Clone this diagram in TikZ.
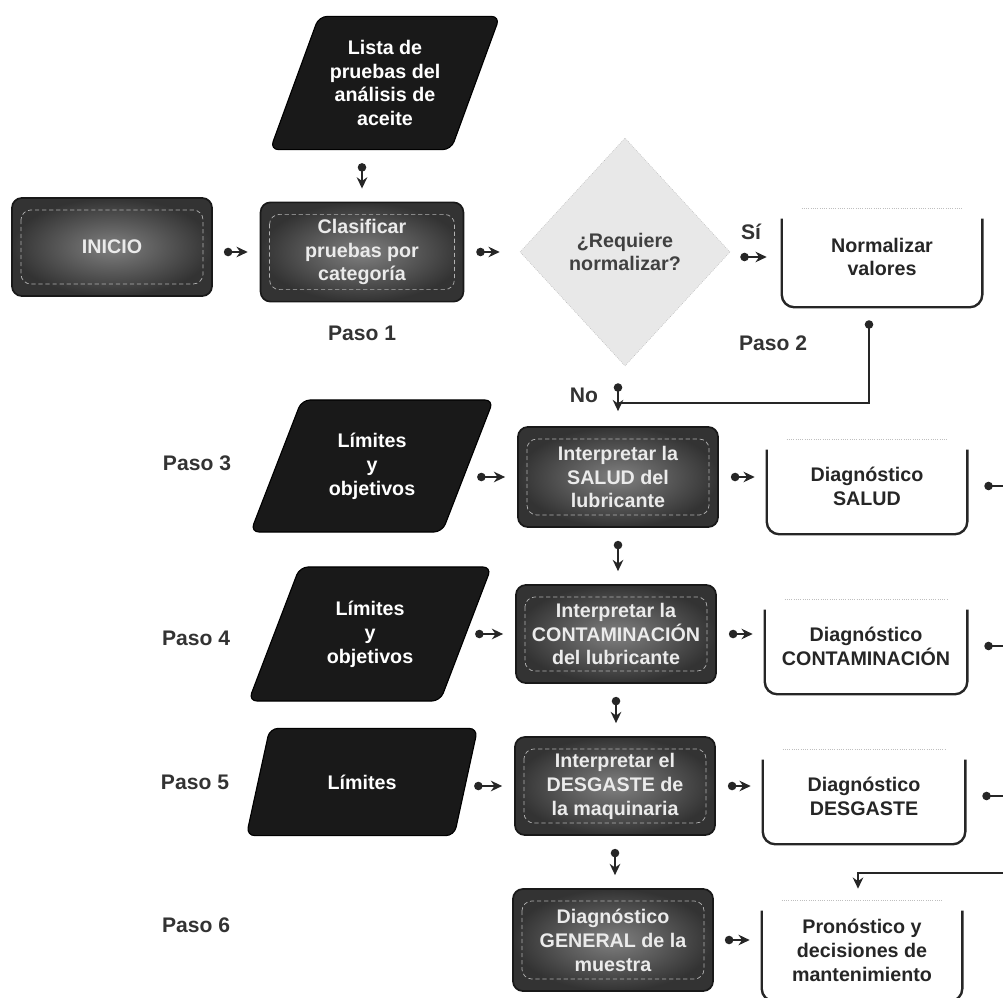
\documentclass[tikz,border=0pt]{standalone}
\usepackage{fontspec}
\setmainfont{Liberation Sans}
\usetikzlibrary{shapes.geometric,arrows.meta,calc}
\begin{document}
\begin{tikzpicture}[x=0.025cm,y=-0.025cm,
  txt/.style={font=\fontsize{14}{17}\selectfont\bfseries, align=center, inner sep=2pt},
  darkbox/.style={txt, text=white!92!black, rounded corners=7pt, draw=black!90, line width=1.2pt,
     inner color=black!50, outer color=black!80, minimum width=5cm, minimum height=2.45cm,
     path picture={\draw[white!70!black, densely dashed, line width=0.5pt]
        ($(path picture bounding box.north west)+(9,12)$) rectangle ($(path picture bounding box.south east)+(-9,-12)$);}},
  para/.style={txt, text=white, shape=trapezium, trapezium left angle=65, trapezium right angle=115,
     trapezium stretches=true, fill=black!90, draw=black, line width=0.8pt, rounded corners=6pt,
     minimum width=6.1cm, minimum height=3.3cm},
  brk/.style={txt, text=black!85, minimum width=5cm, minimum height=2.4cm},
  brkline/.style={draw=black!85, line width=1.7pt, rounded corners=9pt},
  brktop/.style={draw=black!25, densely dotted, line width=0.6pt},
  conn/.style={line width=1.3pt, draw=black!85, {Circle[length=6pt]}-{Stealth[length=8pt,width=7.5pt]}},
  dotline/.style={line width=1.3pt, draw=black!85, {Circle[length=6pt]}-},
  feed/.style={line width=1.3pt, draw=black!85, -{Stealth[length=8pt,width=7.5pt]}},
  lbl/.style={font=\fontsize{15}{18}\selectfont\bfseries, text=black!80}
]
\useasboundingbox (0,0) rectangle (1003,997);

% top part
\node[para, minimum width=5.75cm, minimum height=3.33cm] (lista) at (385,83) {Lista de\\pruebas del\\análisis de\\aceite};
\node[darkbox] (inicio) at (112,247) {INICIO};
\node[darkbox, minimum width=5.07cm, minimum height=2.48cm] (clas) at (362,252) {Clasificar\\pruebas por\\categoría};
\node[txt, shape=diamond, minimum width=5.25cm, minimum height=5.7cm, fill=black!9, draw=black!30, densely dotted, text=black!75] (dia) at (625,252) {¿Requiere\\normalizar?};
\node[brk, minimum height=2.5cm] (norm) at (882,257) {Normalizar\\valores};

% left parallelograms
\node[para, minimum width=6.07cm, minimum height=3.3cm] (p1) at (372,466) {Límites\\y\\objetivos};
\node[para, minimum width=6.07cm, minimum height=3.35cm] (p2) at (370,634) {Límites\\y\\objetivos};
\node[para, minimum width=5.8cm, minimum height=2.68cm] (p3) at (362,782) {Límites};

% interpretation boxes
\node[darkbox, minimum height=2.5cm] (i3) at (618,477) {Interpretar la\\SALUD del\\lubricante};
\node[darkbox] (i4) at (616,634) {Interpretar la\\CONTAMINACIÓN\\del lubricante};
\node[darkbox, minimum height=2.45cm] (i5) at (615,786) {Interpretar el\\DESGASTE de\\la maquinaria};
\node[darkbox, minimum height=2.55cm] (i6) at (613,940) {Diagnóstico\\GENERAL de la\\muestra};

% diagnosis boxes
\node[brk] (d3) at (867,486) {Diagnóstico\\SALUD};
\node[brk, minimum width=5.05cm] (d4) at (866,646) {Diagnóstico\\CONTAMINACIÓN};
\node[brk, minimum width=5.05cm] (d5) at (864,796) {Diagnóstico\\DESGASTE};
\node[brk, minimum height=2.55cm] (pron) at (862,950) {Pronóstico y\\decisiones de\\mantenimiento};

\foreach \n in {norm,d3,d4,d5,pron} {
  \draw[brkline] ($(\n.north west)+(0,12)$) -- (\n.south west) -- (\n.south east) -- ($(\n.north east)+(0,12)$);
  \draw[brktop] ($(\n.north west)+(20,2)$) -- ($(\n.north east)+(-20,2)$);
}

% labels
\node[lbl] (paso1) at (362,333) {Paso 1};
\node[lbl] (paso2) at (773,343) {Paso 2};
\node[lbl] (si) at (751,232) {Sí};
\node[lbl] (no) at (584,395) {No};
\node[lbl] (paso3) at (197,463) {Paso 3};
\node[lbl] (paso4) at (196,638) {Paso 4};
\node[lbl] (paso5) at (195,782) {Paso 5};
\node[lbl] (paso6) at (196,925) {Paso 6};

% connectors
\draw[conn] ($(lista.south -| clas.north)+(0,13)$) -- ($(clas.north)+(0,-13)$);
\draw[conn] ($(inicio.east |- clas.west)+(11,0)$) -- ($(clas.west)+(-12,0)$);
\draw[conn] ($(clas.east)+(12,0)$) -- ($(clas.east -| dia.west)+(-20,0)$);
\draw[conn] ($(dia.east |- norm.west)+(10,0)$) -- ($(norm.west)+(-15,0)$);
\draw[conn] ($(dia.south -| i3.north)+(0,17)$) -- ($(i3.north)+(0,-15)$);
\coordinate (nojoin) at ($(dia.south -| i3.north)+(0,37)$);
\draw[dotline] ($(norm.south)+(-13,13)$) |- (nojoin);

\draw[conn] ($(i3.west)+(-40,0)$) -- ($(i3.west)+(-12,0)$);
\draw[conn] ($(i4.west)+(-40,0)$) -- ($(i4.west)+(-12,0)$);
\draw[conn] ($(i5.west)+(-40,0)$) -- ($(i5.west)+(-12,0)$);

\draw[conn] ($(i3.east)+(12,0)$) -- ($(i3.east -| d3.west)+(-12,0)$);
\draw[conn] ($(i4.east)+(12,0)$) -- ($(i4.east -| d4.west)+(-12,0)$);
\draw[conn] ($(i5.east)+(12,0)$) -- ($(i5.east -| d5.west)+(-12,0)$);
\draw[conn] ($(i6.east)+(11,0)$) -- ($(i6.east -| pron.west)+(-12,0)$);

\draw[conn] ($(i3.south)+(0,13)$) -- ($(i3.south |- i4.north)+(0,-13)$);
\draw[conn] ($(i4.south)+(0,13)$) -- ($(i4.south |- i5.north)+(0,-13)$);
\draw[conn] ($(i5.south)+(0,13)$) -- ($(i5.south |- i6.north)+(0,-13)$);

\coordinate (rail) at (1010,0);
\coordinate (railfeed) at (1010,873);
\foreach \n in {d3,d4,d5}
  \draw[dotline] ($(\n.east)+(17,0)$) -- (\n.east -| rail);
\draw[feed] (railfeed) -| ($(pron.north)+(-4,-10)$);
\end{tikzpicture}
\end{document}
